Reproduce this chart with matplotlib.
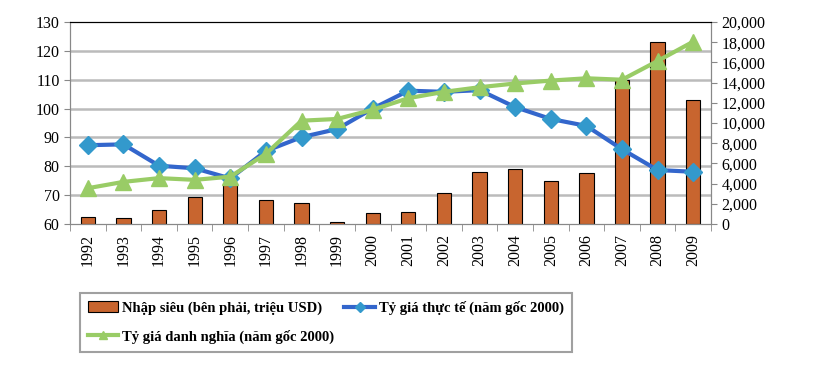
import matplotlib
matplotlib.use("Agg")
import matplotlib.pyplot as plt
import numpy as np

years = [str(y) for y in range(1992, 2010)]
nhap_sieu = [650, 560, 1350, 2640, 3830, 2340, 2080, 170, 1060, 1160,
             3040, 5120, 5410, 4220, 5020, 14260, 17990, 12280]
ty_gia_thuc_te = [87.3, 87.6, 80.2, 79.3, 75.8, 85.3, 90.1, 92.9, 100.0, 106.2,
                  105.8, 106.4, 100.5, 96.4, 94.0, 85.9, 78.7, 78.1]
ty_gia_danh_nghia = [72.4, 74.6, 75.9, 75.3, 76.4, 84.3, 95.8, 96.4, 99.6, 103.6,
                     105.8, 107.4, 108.7, 109.7, 110.5, 110.0, 116.5, 123.2]

plt.rcParams['font.family'] = ['Liberation Serif', 'DejaVu Serif']

fig = plt.figure(figsize=(8.22, 3.70), dpi=100)
ax = fig.add_axes([0.0852, 0.3946, 0.7798, 0.5459])
ax2 = ax.twinx()

x = np.arange(len(years))

# bars on the right axis
ax2.bar(x, nhap_sieu, width=0.4, color='#C8652F', edgecolor='black',
        linewidth=0.8, zorder=2, label='Nhập siêu (bên phải, triệu USD)')
ax2.set_ylim(0, 20000)
ax2.set_yticks(np.arange(0, 20001, 2000))
ax2.set_yticklabels([f'{v:,}' for v in range(0, 20001, 2000)])

# lines drawn on top of bars
ax.set_zorder(ax2.get_zorder() + 1)
ax.patch.set_visible(False)
ax.plot(x, ty_gia_thuc_te, color='#3366CC', lw=3, marker='D', ms=9,
        mfc='#3399CC', mec='#3399CC', label='Tỷ giá thực tế (năm gốc 2000)', zorder=3)
ax.plot(x, ty_gia_danh_nghia, color='#99CC66', lw=3, marker='^', ms=11,
        mfc='#99CC66', mec='#99CC66', label='Tỷ giá danh nghĩa (năm gốc 2000)', zorder=4)

ax.set_ylim(60, 130)
ax.set_yticks(range(60, 131, 10))
ax.set_xlim(-0.5, len(years) - 0.5)
ax.set_xticks(x)
ax.set_xticklabels(years, rotation=90, fontsize=11.5)
ax.set_xticks(np.arange(-0.5, len(years), 1), minor=True)
ax.tick_params(axis='x', which='major', length=0, pad=7)
ax.tick_params(axis='x', which='minor', length=5, color='#888888', direction='out')
ax.tick_params(axis='y', length=4, color='#888888', labelsize=11.5)
ax2.tick_params(axis='y', length=4, color='#888888', labelsize=11.5)

# horizontal grid lines behind everything
for v in range(70, 130, 10):
    ax2.axhline((v - 60) / 70 * 20000, color='#BBBBBB', lw=1.8, zorder=0)

for a in (ax, ax2):
    for side in ('left', 'right', 'bottom'):
        a.spines[side].set_color('#888888')
    a.spines['top'].set_color('black')

handles = []
labels = []
for a in (ax2, ax):
    h, l = a.get_legend_handles_labels()
    handles += h
    labels += l
# order: bar, green (row 2), blue (col 2)
order = [0, 2, 1]
leg = fig.legend([handles[i] for i in order], [labels[i] for i in order],
                 ncol=2, loc='lower left', bbox_to_anchor=(0.088, 0.03),
                 frameon=True, fancybox=False, edgecolor='#888888',
                 prop={'weight': 'bold', 'size': 10.5}, handlelength=2.1,
                 handletextpad=0.25, columnspacing=0.7, borderpad=0.55,
                 labelspacing=1.0, markerscale=0.55)
leg.get_frame().set_linewidth(1.5)

fig.savefig('out.png', dpi=100)
